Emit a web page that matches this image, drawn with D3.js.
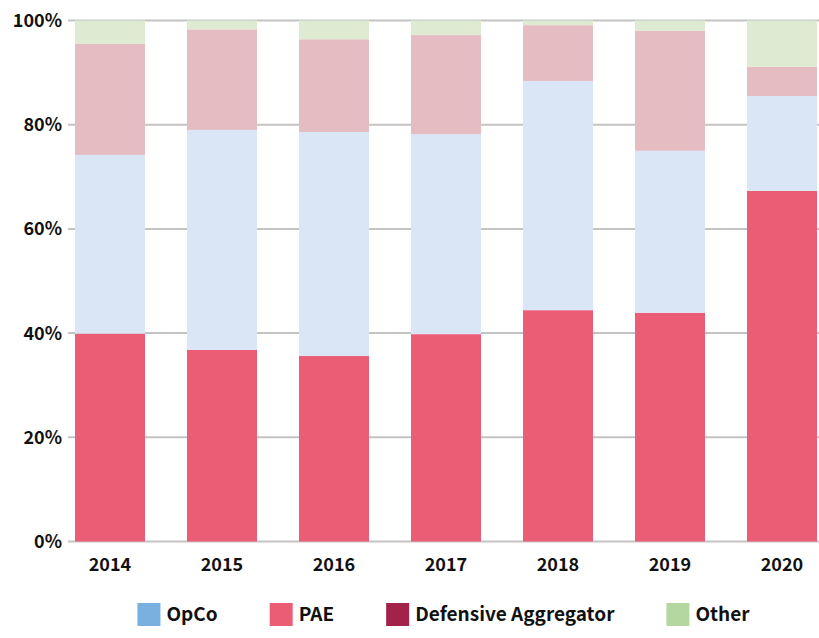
<!DOCTYPE html>
<html>
<head>
<meta charset="utf-8">
<script src="https://cdn.jsdelivr.net/npm/d3@7"></script>
<style>
  body { margin: 0; background: #fff; }
  svg text { font-family: "Noto Sans CJK SC", "Noto Sans", sans-serif; font-weight: 700; fill: #111; }
</style>
</head>
<body>
<div id="chart"></div>
<script>
// Share of campaigns by year (percent)
const years = ['2014', '2015', '2016', '2017', '2018', '2019', '2020'];
const pae = [39.9, 36.8, 35.6, 39.8, 44.4, 43.9, 67.3];
const opco = [34.3, 42.2, 43.0, 38.4, 44.0, 31.1, 18.2];
const defensive = [21.3, 19.3, 17.8, 19.0, 10.7, 23.0, 5.6];
const other = [4.5, 1.7, 3.6, 2.8, 0.9, 2.0, 8.9];
const yTicks = [0, 20, 40, 60, 80, 100];

const seriesNames = ['OpCo', 'PAE', 'Defensive Aggregator', 'Other'];
const legendColors = {
  'OpCo': '#78b0e0',
  'PAE': '#ea5d75',
  'Defensive Aggregator': '#a3224a',
  'Other': '#b4d7a0'
};
// PAE is highlighted, the rest are drawn faded
const barColors = {
  'OpCo': '#dae6f5',
  'PAE': '#ea5d75',
  'Defensive Aggregator': '#e4bcc2',
  'Other': '#dfead3'
};
const stackOrder = ['PAE', 'OpCo', 'Defensive Aggregator', 'Other'];

const width = 819, height = 638;
const margin = { top: 20.5, right: 0, bottom: 96.5, left: 68 };

const rows = years.map((y, i) => ({
  year: y,
  'PAE': pae[i],
  'OpCo': opco[i],
  'Defensive Aggregator': defensive[i],
  'Other': other[i]
}));

const svg = d3.select('#chart')
  .append('svg')
  .attr('width', width)
  .attr('height', height);

const x = d3.scaleBand()
  .domain(years)
  .range([margin.left, 824])
  .paddingInner(0.375)
  .paddingOuter(0.0625);

const y = d3.scaleLinear()
  .domain([0, 100])
  .range([height - margin.bottom, margin.top]);

// Gridlines
svg.append('g')
  .selectAll('line')
  .data(yTicks)
  .enter()
  .append('line')
  .attr('x1', margin.left)
  .attr('x2', width)
  .attr('y1', d => y(d))
  .attr('y2', d => y(d))
  .attr('stroke', '#c4c4c4')
  .attr('stroke-width', 2);

// Y tick labels
svg.append('g')
  .selectAll('text')
  .data(yTicks)
  .enter()
  .append('text')
  .attr('x', margin.left - 6)
  .attr('y', d => y(d))
  .attr('dy', '0.36em')
  .attr('text-anchor', 'end')
  .style('font-size', '18px')
  .text(d => d + '%');

// Stacked bars
const stack = d3.stack().keys(stackOrder);
const layers = stack(rows);

svg.append('g')
  .selectAll('g')
  .data(layers)
  .enter()
  .append('g')
  .attr('fill', d => barColors[d.key])
  .selectAll('rect')
  .data(d => d)
  .enter()
  .append('rect')
  .attr('x', d => x(d.data.year))
  .attr('width', x.bandwidth())
  .attr('y', d => y(d[1]))
  .attr('height', d => y(d[0]) - y(d[1]));

// X labels
svg.append('g')
  .selectAll('text')
  .data(years)
  .enter()
  .append('text')
  .attr('x', d => x(d) + x.bandwidth() / 2)
  .attr('y', 571)
  .attr('text-anchor', 'middle')
  .style('font-size', '18px')
  .text(d => d);

// Legend
const legend = svg.append('g');
const items = legend.selectAll('g')
  .data(seriesNames)
  .enter()
  .append('g');

items.append('rect')
  .attr('width', 23)
  .attr('height', 23)
  .attr('y', 603)
  .attr('fill', d => legendColors[d]);

items.append('text')
  .attr('x', 29)
  .attr('y', 614.5)
  .attr('dy', '0.36em')
  .style('font-size', '19px')
  .text(d => d);

let offset = 0;
items.each(function() {
  const w = 29 + d3.select(this).select('text').node().getComputedTextLength();
  d3.select(this).attr('data-w', w);
});
const gap = 52;
const widths = [];
items.each(function() { widths.push(+d3.select(this).attr('data-w')); });
const total = d3.sum(widths) + gap * (widths.length - 1);
const centerX = (margin.left + width) / 2;
offset = centerX - total / 2;
items.each(function(d, i) {
  d3.select(this).attr('transform', `translate(${offset},0)`);
  offset += widths[i] + gap;
});
</script>
</body>
</html>
